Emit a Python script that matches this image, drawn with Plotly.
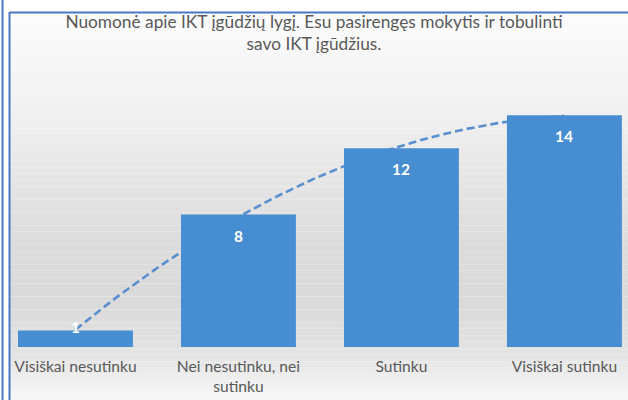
import numpy as np
import plotly.graph_objects as go

# ---- data ----
categories = ["Visiškai nesutinku", "Nei nesutinku, nei<br>sutinku", "Sutinku", "Visiškai sutinku"]
values = [1, 8, 12, 14]
title_text = "Nuomonė apie IKT įgūdžių lygį. Esu pasirengęs mokytis ir tobulinti<br>savo IKT įgūdžius."

W, H = 628, 400
FONT = "Lato"
xi = list(range(len(categories)))

# polynomial (order 2) trendline, as in the original chart
coef = np.polyfit(xi, values, 2)
tx = np.linspace(xi[0], xi[-1], 80)
ty = np.polyval(coef, tx)

fig = go.Figure()

# trendline on base axes (drawn behind bars)
fig.add_trace(go.Scatter(
    x=tx, y=ty, mode="lines", xaxis="x", yaxis="y",
    line=dict(color="#5a8fcf", width=2.6, dash="8px,4px"),
    hoverinfo="skip", showlegend=False,
))
# bars on overlaying axes so they sit on top of the trendline
fig.add_trace(go.Bar(
    x=xi, y=values, xaxis="x2", yaxis="y2",
    marker=dict(color="#478dd2", line=dict(width=0)),
    width=0.705, showlegend=False,
))

xr = [-0.463, 3.39]
yr = [0, 16]
ydom = [53 / H, 318 / H]

# background gradient bands
def bg_level(py):
    pts = [(12, 252), (100, 242), (250, 219), (300, 218), (350, 226), (400, 247)]
    for (y0, c0), (y1, c1) in zip(pts[:-1], pts[1:]):
        if y0 <= py <= y1:
            return c0 + (c1 - c0) * (py - y0) / (y1 - y0)
    return pts[-1][1]

shapes = []
n = 60
edges = np.linspace(12, 400, n + 1)
for a, b in zip(edges[:-1], edges[1:]):
    c = int(round(bg_level((a + b) / 2)))
    shapes.append(dict(type="rect", xref="paper", yref="paper", layer="below",
                       x0=10 / W, x1=1, y0=1 - b / H, y1=1 - a / H,
                       fillcolor=f"rgb({c},{c},{c})", line=dict(width=0)))
# frame lines
shapes.append(dict(type="line", xref="paper", yref="paper", x0=2.5 / W, x1=2.5 / W, y0=0, y1=1,
                   line=dict(color="#4a76c6", width=2)))
shapes.append(dict(type="line", xref="paper", yref="paper", x0=9.5 / W, x1=9.5 / W, y0=0, y1=1 - 12 / H,
                   line=dict(color="#4a76c6", width=2)))
shapes.append(dict(type="line", xref="paper", yref="paper", x0=9.5 / W, x1=1, y0=1 - 12.5 / H, y1=1 - 12.5 / H,
                   line=dict(color="#4a76c6", width=2)))

annotations = []
for i, v in zip(xi, values):
    annotations.append(dict(
        x=i, y=v, xref="x2", yref="y2", text=f"<b>{v}</b>", showarrow=False,
        yshift=-21 if v > 2 else 3, font=dict(family=FONT, size=15.5, color="white"),
    ))

fig.update_layout(
    width=W, height=H,
    margin=dict(l=0, r=0, t=0, b=0, autoexpand=False),
    paper_bgcolor="white", plot_bgcolor="rgba(0,0,0,0)",
    title=dict(text=title_text, x=0.5, xanchor="center", y=1 - 28 / H, yanchor="middle",
               font=dict(family=FONT, size=17.3, color="#595959")),
    xaxis=dict(domain=[0, 1], range=xr, showgrid=False, zeroline=False, automargin=False,
               showticklabels=False, showline=False),
    yaxis=dict(domain=ydom, range=yr, showgrid=False, zeroline=False, automargin=False,
               showticklabels=False, showline=False),
    xaxis2=dict(overlaying="x", range=xr, showgrid=False, zeroline=False, showline=False,
                automargin=False,
                tickmode="array", tickvals=xi, ticktext=categories, ticks="",
                ticklabelstandoff=8,
                tickfont=dict(family=FONT, size=15.6, color="#595959")),
    yaxis2=dict(overlaying="y", range=yr, showgrid=False, zeroline=False, automargin=False,
                showticklabels=False, showline=False),
    shapes=shapes, annotations=annotations,
    bargap=0.295,
)

fig.write_html("out.html", config={"displayModeBar": False},
               post_script="document.body.style.margin='0';document.body.style.overflow='hidden';")
